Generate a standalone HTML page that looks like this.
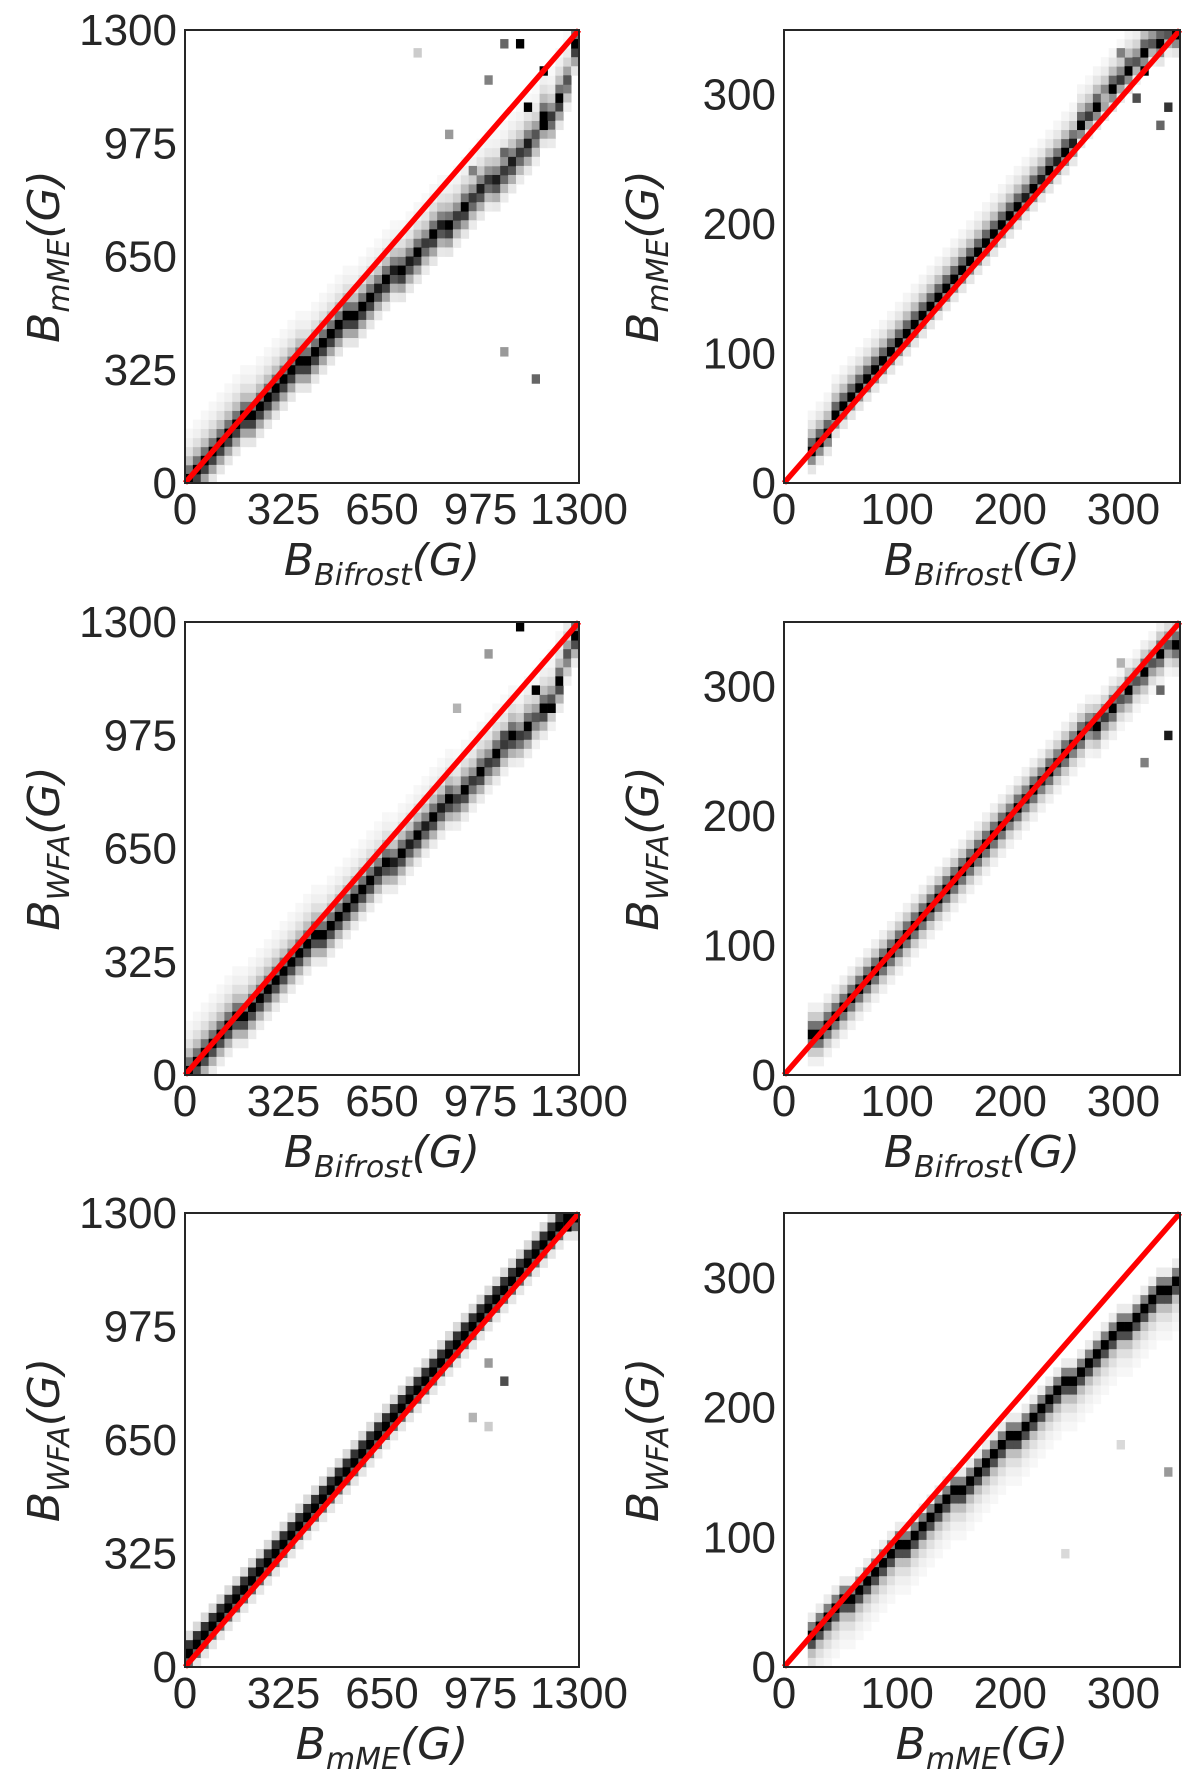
<!DOCTYPE html>
<html><head><meta charset="utf-8">
<style>
html,body{margin:0;padding:0;background:#fff;}
svg{display:block;}
text{font-family:"Liberation Sans","DejaVu Sans",sans-serif;fill:#262626;}
.tick{font-size:44px;}
.lab{font-size:44px;font-style:italic;font-family:"DejaVu Sans","Liberation Sans",sans-serif;}
.sub{font-size:30px;}
</style></head>
<body>
<svg id="fig" width="1200" height="1789" viewBox="0 0 1200 1789"></svg>
<script>
// x bin centers: left panels step 26 (0-1300), right panels step 7 (0-350)
const ridgeP1 = [12,36,60,85,110,135,158,182,205,228,250,272,294,316,338,360,382,404,426,448,470,492,512,534,556,578,600,620,640,662,684,706,728,750,770,792,814,836,858,880,905,930,955,980,1010,1040,1060,1100,1150,1250];
const ridgeP2 = [null,null,null,26,34,41,49,56,63,70,77,84,91,99,106,113,120,128,135,142,149,157,164,171,178,186,193,200,207,215,222,229,236,244,251,258,265,273,280,287,294,302,309,316,323,330,337,342,345,347];
const ridgeP3 = [12,37,61,85,109,133,157,181,205,228,252,276,299,322,345,368,391,414,437,460,483,506,529,552,575,598,620,643,666,689,712,735,758,781,804,826,849,872,895,918,940,963,986,1010,1035,1060,1090,1120,1200,1260];
const ridgeP4 = [null,null,null,28,34,41,48,55,62,69,75,82,89,96,103,110,117,123,130,137,144,151,158,164,171,178,185,192,198,205,212,219,226,232,239,246,252,259,266,272,279,286,292,299,305,312,318,325,330,335];
const ridgeP5 = [30,56,82,108,134,160,186,212,238,264,290,316,342,368,394,420,446,472,498,524,550,576,602,628,654,680,706,732,758,784,810,836,862,888,914,940,966,992,1018,1044,1070,1096,1122,1148,1174,1200,1226,1252,1278,1290];
const ridgeP6 = [null,null,null,22,31,37,43,49,55,61,67,73,79,85,91,97,103,109,115,121,127,133,139,145,151,157,163,169,175,181,187,193,199,205,211,217,223,229,235,241,247,253,259,265,271,277,283,289,293,297];
const densP1 = "99999999999999999999999989898979897978787878697969";
const densP2 = "00099999999999999999999999999989898989797979696969";
const densP3 = "99999999999999999999999989898989897979797979696969";
const densP4 = "00099999999999999999999999998989898989797969696969";
const densP5 = "99999999999999999999999999999999999999999999999999";
const densP6 = "00099999999999999999999999999999999999999999999999";
const upFadeP1 = [0.55,0.25,0.12,0.06,0.03], downFadeP1 = [0.75,0.35,0.1];
const upFadeP2 = [0.6,0.25,0.1,0.04], downFadeP2 = [0.45,0.1];
const upFadeP3 = [0.55,0.25,0.12,0.06,0.03], downFadeP3 = [0.7,0.3,0.08];
const upFadeP4 = [0.55,0.2,0.06], downFadeP4 = [0.55,0.2,0.06];
const upFadeP5 = [0.8,0.15], downFadeP5 = [0.6,0.1];
const upFadeP6 = [0.5,0.08], downFadeP6 = [0.7,0.25,0.12,0.06,0.03];
const outP1 = [[1150,300,0.6],[1040,380,0.4],[1170,1180,1],[1110,1270,1],[1060,1250,0.6],[1140,1080,1],[1000,1160,0.5],[880,1000,0.4],[770,1240,0.2],[1180,1020,1],[1060,940,0.6],[940,900,0.5]];
const outP2 = [[320,320,1],[340,290,0.8],[300,330,0.5],[330,275,0.6],[280,300,0.3],[310,300,0.7]];
const outP3 = [[1100,1280,1],[1150,1100,1],[1000,1200,0.4],[900,1050,0.3],[1050,980,0.7],[1200,1050,1]];
const outP4 = [[340,260,0.9],[330,300,0.6],[320,240,0.5],[300,320,0.3]];
const outP5 = [[1000,870,0.4],[950,720,0.3],[1050,830,0.7],[1270,1250,1],[1000,700,0.2]];
const outP6 = [[340,150,0.4],[250,90,0.15],[300,170,0.15]];
const ticksLeft = [0,325,650,975,1300];
const ticksRight = [0,100,200,300];

const NS = "http://www.w3.org/2000/svg";
const svg = document.getElementById('fig');
function mk(tag, attrs, parent){const e=document.createElementNS(NS,tag);for(const k in attrs)e.setAttribute(k,attrs[k]);(parent||svg).appendChild(e);return e;}

const panels = [
 {id:'p1',L:185,T:30,R:579,B:483,max:1300,ridge:ridgeP1,dens:densP1,up:upFadeP1,dn:downFadeP1,out:outP1,ticks:ticksLeft,xl:['B','Bifrost'],yl:['B','mME']},
 {id:'p2',L:784,T:30,R:1180,B:483,max:350,ridge:ridgeP2,dens:densP2,up:upFadeP2,dn:downFadeP2,out:outP2,ticks:ticksRight,xl:['B','Bifrost'],yl:['B','mME']},
 {id:'p3',L:185,T:622,R:579,B:1075,max:1300,ridge:ridgeP3,dens:densP3,up:upFadeP3,dn:downFadeP3,out:outP3,ticks:ticksLeft,xl:['B','Bifrost'],yl:['B','WFA']},
 {id:'p4',L:784,T:622,R:1180,B:1075,max:350,ridge:ridgeP4,dens:densP4,up:upFadeP4,dn:downFadeP4,out:outP4,ticks:ticksRight,xl:['B','Bifrost'],yl:['B','WFA']},
 {id:'p5',L:185,T:1213,R:579,B:1667,max:1300,ridge:ridgeP5,dens:densP5,up:upFadeP5,dn:downFadeP5,out:outP5,ticks:ticksLeft,xl:['B','mME'],yl:['B','WFA']},
 {id:'p6',L:784,T:1213,R:1180,B:1667,max:350,ridge:ridgeP6,dens:densP6,up:upFadeP6,dn:downFadeP6,out:outP6,ticks:ticksRight,xl:['B','mME'],yl:['B','WFA']}
];
const NB = 50;
function gray(d){const g=Math.round(255*(1-Math.min(1,d)));return 'rgb('+g+','+g+','+g+')';}

panels.forEach(p=>{
  const g = mk('g',{});
  
  
  const W=p.R-p.L, H=p.B-p.T, bw=p.max/NB;
  const sx=v=>p.L+v/p.max*W, sy=v=>p.B-v/p.max*H;
  const cw=W/NB, ch=H/NB;
  const cellsG = mk('g',{},g);
  
  
  function cell(xv,yv,d){
    if(d<=0.01) return;
    const ib=Math.floor(xv/bw), jb=Math.floor(yv/bw);
    if(ib<0||ib>=NB||jb<0||jb>=NB) return;
    const r=mk('rect',{x:sx(ib*bw),y:sy((jb+1)*bw),width:cw+0.4,height:ch+0.4,fill:gray(d)},cellsG);
    
    
  }
  p.ridge.forEach((r,i)=>{
    if(r===null) return;
    const xv=(i+0.5)*bw, d=(+p.dens[i])/9;
    p.up.forEach((f,k)=>cell(xv,r+(k+1)*bw,d*f));
    p.dn.forEach((f,k)=>cell(xv,r-(k+1)*bw,d*f));
    cell(xv,r,d);
  });
  p.out.forEach(o=>cell(o[0],o[1],o[2]));
  const ln=mk('line',{x1:sx(0),y1:sy(0),x2:sx(p.max),y2:sy(p.max),stroke:'#ff0000','stroke-width':5.5},g);
  
  
  const box=mk('rect',{x:p.L,y:p.T,width:W,height:H,fill:'none',stroke:'#262626','stroke-width':2},g);
  
  
  p.ticks.forEach(t=>{
    const tx=mk('text',{x:sx(t),y:p.B+41,'text-anchor':'middle',class:'tick'},g);
    tx.textContent=t;
    
    
    const ty=mk('text',{x:p.L-8,y:sy(t)+15,'text-anchor':'end',class:'tick'},g);
    ty.textContent=t;
    
    
  });
  const xl=mk('text',{x:(p.L+p.R)/2,y:p.B+92,'text-anchor':'middle',class:'lab'},g);
  xl.innerHTML='B<tspan class="sub" dy="10">'+p.xl[1]+'</tspan><tspan dy="-10">(G)</tspan>';
  
  
  const cy=(p.T+p.B)/2, lx=p.L-126;
  const yl=mk('text',{x:lx,y:cy,'text-anchor':'middle',class:'lab',transform:'rotate(-90 '+lx+' '+cy+')'},g);
  yl.innerHTML='B<tspan class="sub" dy="10">'+p.yl[1]+'</tspan><tspan dy="-10">(G)</tspan>';
  
  
});
</script>
</body></html>
